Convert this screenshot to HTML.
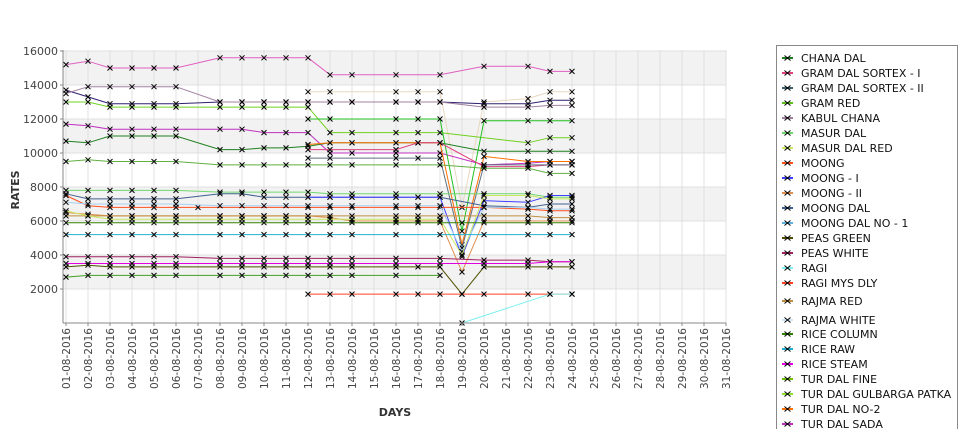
<!DOCTYPE html>
<html><head><meta charset="utf-8"><style>
body{margin:0;background:#fff;}
svg{display:block;font-family:"DejaVu Sans","Liberation Sans",sans-serif;}
</style></head><body>
<svg id="chart" width="975" height="429" viewBox="0 0 975 429" xmlns="http://www.w3.org/2000/svg">
<g id="bands"></g>
<g id="grid"></g>
<g id="series"></g>
<g id="axes"></g>
<text x="19" y="190" transform="rotate(-90 19 190)" font-size="11" font-weight="bold" fill="#333" text-anchor="middle">RATES</text>
<text x="395" y="416" font-size="11" font-weight="bold" fill="#333" text-anchor="middle">DAYS</text>
<g id="legend"></g>
</svg>
<script>
const categories = ["01-08-2016","02-08-2016","03-08-2016","04-08-2016","05-08-2016","06-08-2016","07-08-2016","08-08-2016","09-08-2016","10-08-2016","11-08-2016","12-08-2016","13-08-2016","14-08-2016","15-08-2016","16-08-2016","17-08-2016","18-08-2016","19-08-2016","20-08-2016","21-08-2016","22-08-2016","23-08-2016","24-08-2016","25-08-2016","26-08-2016","27-08-2016","28-08-2016","29-08-2016","30-08-2016","31-08-2016"];
const yTicks = [2000,4000,6000,8000,10000,12000,14000,16000];
const N = null;
const seriesNames = ["GRAM DAL SORTEX  - I","RAJMA WHITE","GRAM DAL SORTEX - II","KABUL CHANA","GRAM RED","TUR DAL SADA","CHANA DAL","TUR DAL GULBARGA PATKA","TUR DAL NO-2","SERIES X1","SERIES X2","SERIES X3","MASUR DAL","MOONG DAL","MOONG - I","MOONG","MOONG DAL NO - 1","MOONG - II","RAJMA RED","MASUR DAL RED","RICE COLUMN","RICE RAW","PEAS WHITE","RICE STEAM","PEAS GREEN","TUR DAL FINE","RAGI MYS DLY","RAGI"];
const seriesColors = ["#e060c0","#e8d8c0","#302070","#a080a0","#70d020","#c030c0","#208020","#20c020","#ff7000","#e04080","#607080","#60b040","#70d870","#406090","#4040ff","#ff5020","#a8d0f0","#e09050","#c09040","#c8e860","#308000","#20b0d0","#a02060","#e000e0","#505000","#40a020","#ff4020","#80f0f0"];
const s01 = [15200,15400,15000,15000,15000,15000,N,15600,15600,15600,15600,15600,14600,14600,N,14600,N,14600,N,15100,N,15100,14800,14800];
const s02 = [N,N,N,N,N,N,N,N,N,N,N,13600,13600,N,N,13600,13600,13600,6800,13000,N,13200,13600,13600];
const s03 = [13700,13300,12900,12900,12900,12900,N,13000,13000,13000,13000,13000,13000,13000,N,13000,13000,13000,N,12900,N,12900,13100,13100];
const s04 = [13500,13900,13900,13900,13900,13900,N,13000,13000,13000,13000,13000,13000,13000,N,13000,13000,13000,N,12700,N,12700,12800,12800];
const s05 = [13000,13000,12700,12700,12700,12700,N,12700,12700,12700,12700,12700,11200,11200,N,11200,11200,11200,N,N,N,10600,10900,10900];
const s06 = [11700,11600,11400,11400,11400,11400,N,11400,11400,11200,11200,11200,10000,10000,N,10000,N,10000,N,9300,N,9400,9500,9500];
const s07 = [10700,10600,11000,11000,11000,11000,N,10200,10200,10300,10300,10400,10600,10600,N,10600,10600,10600,N,10100,N,10100,10100,10100];
const s08 = [N,N,N,N,N,N,N,N,N,N,N,12000,12000,N,N,12000,12000,12000,5400,11900,N,11900,11900,11900];
const s09 = [N,N,N,N,N,N,N,N,N,N,N,10500,10600,10600,N,10600,10600,10600,4600,9800,N,9500,9500,9500];
const s10 = [N,N,N,N,N,N,N,N,N,N,N,10200,10200,N,N,10200,10600,10600,N,9200,N,9200,9300,9300];
const s11 = [N,N,N,N,N,N,N,N,N,N,N,9700,9700,N,N,9700,9700,9700,4400,9300,N,9300,9300,9300];
const s12 = [9500,9600,9500,9500,9500,9500,N,9300,9300,9300,9300,9300,9300,9300,N,9300,N,9300,N,9100,N,9100,8800,8800];
const s13 = [7800,7800,7800,7800,7800,7800,N,7700,7700,7700,7700,7700,7600,7600,N,7600,N,7600,N,7600,N,7600,7400,7400];
const s14 = [7600,7300,7300,7300,7300,7300,N,7600,7600,7400,7400,7400,7400,7400,N,7400,7400,7400,N,6900,N,6800,7000,7000];
const s15 = [N,N,N,N,N,N,N,N,N,N,N,7400,7400,7400,N,7400,7400,7400,3900,7200,N,7100,7500,7500];
const s16 = [7500,6900,6800,6800,6800,6800,6800,N,N,N,N,6800,6800,6800,N,6800,6800,6800,N,6800,N,6700,6600,6600];
const s17 = [7100,7000,7000,7000,7000,7000,N,6900,6900,6900,6900,6900,6900,6900,N,6900,6900,6900,4200,6800,N,6800,6700,6700];
const s18 = [6500,6400,6300,6300,6300,6300,N,6300,6300,6300,6300,6300,6200,6000,N,6000,6000,6000,3000,6000,N,6000,6000,6000];
const s19 = [6300,6300,6300,6300,6300,6300,N,6300,6300,6300,6300,6300,6300,6300,N,6300,6300,6300,N,6300,N,6300,6200,6200];
const s20 = [6600,6300,6100,6100,6100,6100,N,6100,6100,6100,6100,6100,6100,6100,N,6100,6100,6100,4000,7500,N,7500,7300,7300];
const s21 = [5900,5900,5900,5900,5900,5900,N,5900,5900,5900,5900,5900,5900,5900,N,5900,5900,5900,5900,5900,N,5900,5900,5900];
const s22 = [5200,5200,5200,5200,5200,5200,N,5200,5200,5200,5200,5200,5200,5200,N,5200,N,5200,N,5200,N,5200,5200,5200];
const s23 = [3900,3900,3900,3900,3900,3900,N,3800,3800,3800,3800,3800,3800,3800,N,3800,N,3800,N,3700,N,3700,3600,3600];
const s24 = [3500,3500,3500,3500,3500,3500,N,3500,3500,3500,3500,3500,3500,3500,N,3500,N,3500,N,3500,N,3500,3600,3600];
const s25 = [3300,3400,3300,3300,3300,3300,N,3300,3300,3300,3300,3300,3300,3300,N,3300,3300,3300,1700,3300,N,3300,3300,3300];
const s26 = [2700,2800,2800,2800,2800,2800,N,2800,2800,2800,2800,2800,2800,2800,N,2800,N,2800,N,N,N,N,N,N];
const s27 = [N,N,N,N,N,N,N,N,N,N,N,1700,1700,1700,N,1700,1700,1700,1700,1700,N,1700,1700,1700];
const s28 = [N,N,N,N,N,N,N,N,N,N,N,N,N,N,N,N,N,N,0,N,N,N,1700,1700];
const seriesValues = [s01,s02,s03,s04,s05,s06,s07,s08,s09,s10,s11,s12,s13,s14,s15,s16,s17,s18,s19,s20,s21,s22,s23,s24,s25,s26,s27,s28];
const legendNames = ["CHANA DAL","GRAM DAL SORTEX  - I","GRAM DAL SORTEX - II","GRAM RED","KABUL CHANA","MASUR DAL","MASUR DAL RED","MOONG","MOONG - I","MOONG - II","MOONG DAL","MOONG DAL NO - 1","PEAS GREEN","PEAS WHITE","RAGI","RAGI MYS DLY","RAJMA RED","RAJMA WHITE","RICE COLUMN","RICE RAW","RICE STEAM","TUR DAL FINE","TUR DAL GULBARGA PATKA","TUR DAL NO-2","TUR DAL SADA"];
const legendColors = ["#208020","#e04080","#406070","#60c020","#a080a0","#70d870","#c8e860","#ff5020","#4040ff","#e09050","#406090","#60b0e0","#505000","#a02060","#80f0f0","#ff4020","#c09040","#d0e8f8","#308000","#20b0d0","#e000e0","#70c000","#90e030","#ff7000","#c030c0"];

const NS="http://www.w3.org/2000/svg";
const X0=66, DX=22, PL=63, PR=726, PT=50, PB=323;
function xs(i){return X0+DX*i;}
function ys(v){return 323 - v*34/2000;}
function mk(tag,attrs,parent){const e=document.createElementNS(NS,tag);for(const k in attrs)e.setAttribute(k,attrs[k]);parent.appendChild(e);return e;}

const bands=document.getElementById('bands');
for(let t=0;t<yTicks.length;t+=2){
  const r=mk('rect',{x:PL,y:ys(yTicks[t]+2000),width:PR-PL,height:ys(yTicks[t])-ys(yTicks[t]+2000),fill:'#f2f2f2'},bands);
  
  
}
const grid=document.getElementById('grid');
yTicks.forEach(t=>{
  const l=mk('line',{x1:PL,x2:PR,y1:ys(t),y2:ys(t),stroke:'#e0e0e0','stroke-width':1},grid);
  
  
});
categories.forEach((c,i)=>{
  const l=mk('line',{x1:xs(i),x2:xs(i),y1:PT,y2:PB,stroke:'#e0e0e0','stroke-width':1},grid);
  
  
});

const sg=document.getElementById('series');
seriesValues.forEach((vals,si)=>{
  const g=mk('g',{},sg);
  
  
  const pts=[];
  vals.forEach((v,i)=>{if(v!==null)pts.push([xs(i),ys(v)]);});
  if(pts.length>1){
    const p=mk('polyline',{points:pts.map(p=>p.join(',')).join(' '),fill:'none',stroke:seriesColors[si],'stroke-width':1},g);
    
    
  }
  pts.forEach(p=>{
    const m=mk('path',{d:`M${p[0]-2.5},${p[1]-2.5}L${p[0]+2.5},${p[1]+2.5}M${p[0]-2.5},${p[1]+2.5}L${p[0]+2.5},${p[1]-2.5}`,stroke:'#000','stroke-width':1},g);
    
    
  });
});

const ax=document.getElementById('axes');
mk('line',{x1:PL,x2:PL,y1:PT,y2:PB,stroke:'#888'},ax);
mk('line',{x1:PL,x2:PR,y1:PB,y2:PB,stroke:'#888'},ax);
yTicks.forEach(t=>{
  mk('line',{x1:PL-3,x2:PL,y1:ys(t),y2:ys(t),stroke:'#888'},ax);
  const tx=mk('text',{x:PL-5,y:ys(t)+4,'font-size':11,fill:'#444','text-anchor':'end'},ax);
  tx.textContent=t;
  
  
});
categories.forEach((c,i)=>{
  mk('line',{x1:xs(i),x2:xs(i),y1:PB,y2:PB+3,stroke:'#888'},ax);
  const tx=mk('text',{x:xs(i)+4,y:PB+5,'font-size':10.5,fill:'#444','text-anchor':'end',transform:`rotate(-90 ${xs(i)+4} ${PB+5})`},ax);
  tx.textContent=c;
  
  
});

const lg=document.getElementById('legend');
mk('rect',{x:776.5,y:45.5,width:181,height:400,fill:'#fff',stroke:'#888'},lg);
const ly=[58,73,88,103,118,133,148,163,178,193,208,223,238,253,268,283,301,320,334,349,364,379,394,409,424];
legendNames.forEach((n,i)=>{
  const g=mk('g',{},lg);
  
  
  const y=ly[i];
  mk('line',{x1:782,x2:793,y1:y,y2:y,stroke:legendColors[i],'stroke-width':2},g);
  mk('path',{d:`M784.5,${y-2.5}L790.5,${y+2.5}M784.5,${y+2.5}L790.5,${y-2.5}`,stroke:'#000','stroke-width':1},g);
  const t=mk('text',{x:801,y:y+4,'font-size':11,fill:'#111'},g);
  t.textContent=n;
});
</script>
</body></html>
